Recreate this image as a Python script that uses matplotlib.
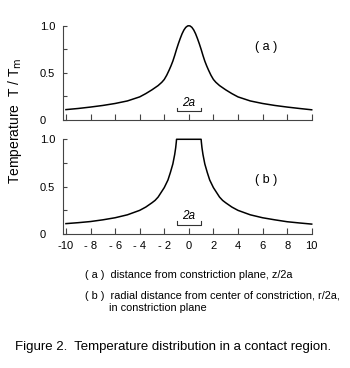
import numpy as np
import matplotlib
matplotlib.use('Agg')
import matplotlib.pyplot as plt

plt.rcParams['font.family'] = ['Liberation Sans', 'DejaVu Sans']

# (a) T/Tm along the axis, z/2a
X_A = [-10, -9, -8, -7, -6, -5, -4, -3.5, -3, -2.5, -2.2, -2.0, -1.8, -1.6, -1.45, -1.3, -1.15,
       -1.0, -0.85, -0.7, -0.55, -0.4, -0.25, -0.1, 0,
       0.1, 0.25, 0.4, 0.55, 0.7, 0.85, 1.0,
       1.15, 1.3, 1.45, 1.6, 1.8, 2.0, 2.2, 2.5, 3, 3.5, 4, 5, 6, 7, 8, 9, 10]
Y_A = [0.11, 0.122, 0.137, 0.154, 0.175, 0.202, 0.245, 0.28, 0.32, 0.365, 0.40, 0.43, 0.475, 0.53, 0.575, 0.625, 0.685,
       0.75, 0.81, 0.865, 0.915, 0.955, 0.983, 0.998, 1.0,
       0.998, 0.983, 0.955, 0.915, 0.865, 0.81, 0.75,
       0.685, 0.625, 0.575, 0.53, 0.475, 0.43, 0.40, 0.365, 0.32, 0.28, 0.245, 0.202, 0.175, 0.154, 0.137, 0.122, 0.108]

# (b) T/Tm radial, r/2a, in constriction plane
X_B = [-10, -9, -8, -7, -6, -5, -4, -3.5, -3, -2.75, -2.5, -2.25, -2, -1.85, -1.7, -1.5, -1.3, -1.15,
       -1.07, -1.02, -1.0,
       1.0, 1.02, 1.07,
       1.15, 1.3, 1.5, 1.7, 1.85, 2, 2.25, 2.5, 2.75, 3, 3.5, 4, 5, 6, 7, 8, 9, 10]
Y_B = [0.11, 0.12, 0.132, 0.15, 0.172, 0.203, 0.25, 0.285, 0.33, 0.355, 0.39, 0.44, 0.49, 0.53, 0.57, 0.65, 0.74, 0.84,
       0.91, 0.97, 1.0,
       1.0, 0.97, 0.91,
       0.84, 0.74, 0.65, 0.57, 0.53, 0.49, 0.44, 0.39, 0.355, 0.33, 0.285, 0.25, 0.203, 0.172, 0.15, 0.13, 0.117, 0.105]

X_TICKS = [-10, -8, -6, -4, -2, 0, 2, 4, 6, 8, 10]
X_TICK_LABELS = ['-10', '- 8', '- 6', '- 4', '- 2', '0', '2', '4', '6', '8', '10']
Y_TICKS = [0, 0.5, 1.0]
Y_TICK_LABELS = ['0', '0.5', '1.0']
Y_MINOR = [0.25, 0.75]

SPINE = '#444444'

fig = plt.figure(figsize=(3.5, 3.68), dpi=100)
ax_a = fig.add_axes([0.1814, 0.674, 0.7092, 0.256])
ax_b = fig.add_axes([0.1814, 0.364, 0.7092, 0.2575])


def style_panel(ax, show_xlabels):
    for s in ['top', 'right']:
        ax.spines[s].set_visible(False)
    for s in ['left', 'bottom']:
        ax.spines[s].set_color(SPINE)
        ax.spines[s].set_linewidth(0.8)
    ax.set_xlim(-10.2, 10)
    ax.set_ylim(0, 1.0)
    ax.set_xticks(X_TICKS)
    ax.set_yticks(Y_TICKS)
    ax.set_yticks(Y_MINOR, minor=True)
    ax.set_yticklabels(Y_TICK_LABELS, ha='left')
    if show_xlabels:
        ax.set_xticklabels(X_TICK_LABELS)
    else:
        ax.set_xticklabels([])
    ax.tick_params(axis='x', direction='in', length=4, width=0.8, color=SPINE, labelsize=8, pad=5)
    ax.tick_params(axis='y', which='both', direction='in', length=3, width=0.8, color=SPINE,
                   labelsize=8, pad=17)


def scale_bar(ax, y_bar, y_txt):
    ax.plot([-1, -1, 1, 1], [y_bar + 0.035, y_bar, y_bar, y_bar + 0.035], color='#333333', lw=0.8)
    ax.text(0, y_txt, '2a', style='italic', ha='center', va='center', fontsize=8.5)


style_panel(ax_a, False)
ax_a.plot(X_A, Y_A, color='black', lw=1.1, clip_on=False)
scale_bar(ax_a, 0.09, 0.18)
ax_a.text(6.3, 0.77, '( a )', ha='center', va='center', fontsize=9)

style_panel(ax_b, True)
ax_b.plot(X_B, Y_B, color='black', lw=1.1, clip_on=False)
scale_bar(ax_b, 0.1, 0.19)
ax_b.text(6.3, 0.57, '( b )', ha='center', va='center', fontsize=9)

fig.text(0.043, 1 - 121 / 368, 'Temperature  T / T$_\\mathrm{m}$', rotation=90,
         ha='center', va='center', fontsize=10)

fig.text(85 / 350, 1 - 275 / 368, '( a )  distance from constriction plane, z/2a',
         ha='left', va='center', fontsize=7.9)
fig.text(85 / 350, 1 - 296 / 368, '( b )  radial distance from center of constriction, r/2a,',
         ha='left', va='center', fontsize=7.9)
fig.text(109 / 350, 1 - 308 / 368, 'in constriction plane',
         ha='left', va='center', fontsize=7.9)
fig.text(15 / 350, 1 - 347 / 368, 'Figure 2.  Temperature distribution in a contact region.',
         ha='left', va='center', fontsize=9.5)

fig.savefig('out.png', dpi=100)
